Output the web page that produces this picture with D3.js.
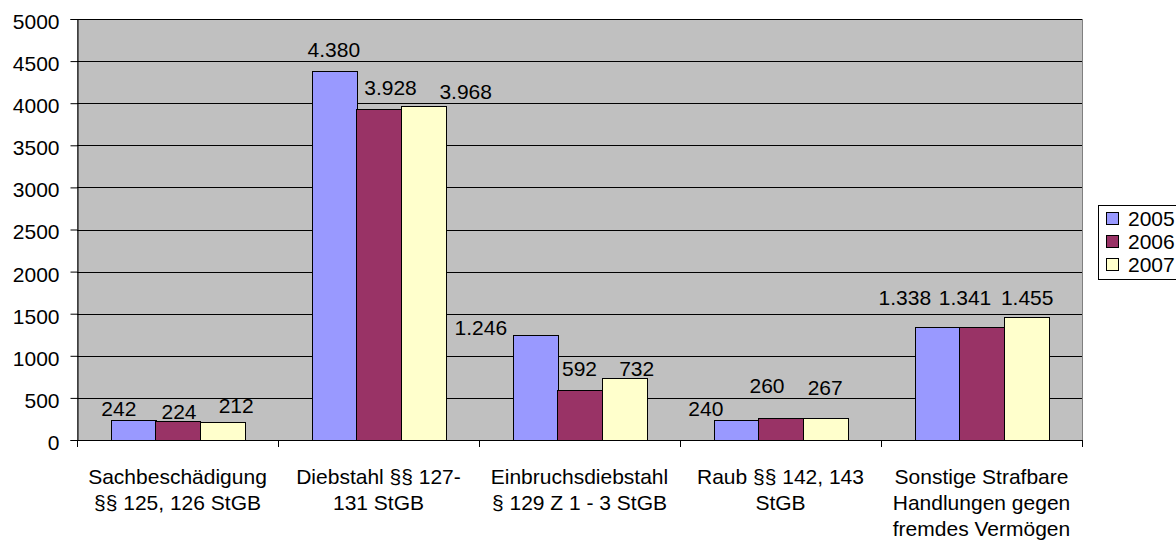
<!DOCTYPE html>
<html>
<head>
<meta charset="utf-8">
<script src="https://cdn.jsdelivr.net/npm/d3@7"></script>
<style>
  html, body { margin: 0; padding: 0; background: #fff; }
  svg { display: block; }
  text { font-family: "Liberation Sans", Arial, sans-serif; fill: #000; }
</style>
</head>
<body>
<svg id="chart" width="1176" height="541"></svg>
<script>
// ---- data ----
const categories = [
  ["Sachbeschädigung", "§§ 125, 126 StGB"],
  ["Diebstahl §§ 127-", "131 StGB"],
  ["Einbruchsdiebstahl", "§ 129 Z 1 - 3 StGB"],
  ["Raub §§ 142, 143", "StGB"],
  ["Sonstige Strafbare", "Handlungen gegen", "fremdes Vermögen"]
];
const years = ["2005", "2006", "2007"];
const values2005 = [242, 4380, 1246, 240, 1338];
const values2006 = [224, 3928, 592, 260, 1341];
const values2007 = [212, 3968, 732, 267, 1455];
const yTicks = [0, 500, 1000, 1500, 2000, 2500, 3000, 3500, 4000, 4500, 5000];

// ---- style / layout (not data) ----
const colors = ["#9999FF", "#993366", "#FFFFCC"];
// manual label nudges [dx, dy] per series per category (labels were hand-placed in the original)
const labelNudge = [
  [[-14, 10], [0, 0], [-54, 14], [-30, 10], [-32, -8]],
  [[1.5, 12], [12, 0], [0, 0], [-13.5, -11], [-16.5, -8]],
  [[14, 5], [42.5, 7], [12.5, 12], [0, -8.5], [1, 1.5]]
];
const FS = 21;
const plot = { left: 77, right: 1082, top: 19, bottom: 440 };

const series = [values2005, values2006, values2007];
const catKeys = categories.map(c => c.join(" "));

const svg = d3.select("#chart");

const x0 = d3.scaleBand().domain(catKeys).range([plot.left, plot.right]).paddingInner(0).paddingOuter(0);
const x1 = d3.scaleBand().domain(years).range([0, x0.bandwidth()]).paddingInner(0).paddingOuter(0.75);
const y = d3.scaleLinear().domain([0, 5000]).range([plot.bottom, plot.top]);

const fmt = d3.formatLocale({ decimal: ",", thousands: ".", grouping: [3], currency: ["", "€"] }).format(",d");

// plot background
svg.append("rect")
  .attr("x", plot.left + 0.5).attr("y", plot.top + 0.5)
  .attr("width", plot.right - plot.left).attr("height", plot.bottom - plot.top)
  .attr("fill", "#C0C0C0").attr("stroke", "#808080").attr("stroke-width", 1);

// gridlines
svg.append("g").selectAll("line")
  .data(yTicks.filter(t => t > 0))
  .join("line")
  .attr("x1", plot.left).attr("x2", plot.right)
  .attr("y1", d => Math.round(y(d)) + 0.5).attr("y2", d => Math.round(y(d)) + 0.5)
  .attr("stroke", "#000").attr("stroke-width", 1);

// bars
years.forEach((yr, si) => {
  svg.append("g").selectAll("rect")
    .data(series[si])
    .join("rect")
    .attr("x", (d, i) => Math.round(x0(catKeys[i]) + x1(yr)) + 0.5)
    .attr("y", d => Math.round(y(d)) + 0.5)
    .attr("width", Math.round(x1.bandwidth()))
    .attr("height", d => Math.round(y(0)) - Math.round(y(d)))
    .attr("fill", colors[si])
    .attr("stroke", "#000").attr("stroke-width", 1);
});

// value labels
years.forEach((yr, si) => {
  svg.append("g").selectAll("text")
    .data(series[si])
    .join("text")
    .attr("x", (d, i) => x0(catKeys[i]) + x1(yr) + x1.bandwidth() / 2 + labelNudge[si][i][0])
    .attr("y", (d, i) => y(d) - 14 + labelNudge[si][i][1])
    .attr("text-anchor", "middle")
    .attr("font-size", FS)
    .text(d => fmt(d));
});

// y axis
const yAxis = d3.axisLeft(y).tickValues(yTicks).tickSize(7).tickPadding(11).tickFormat(d3.format("d"));
const gy = svg.append("g").attr("transform", `translate(${plot.left + 0.5},0)`).call(yAxis);
gy.select(".domain").attr("stroke", "#000");
gy.selectAll(".tick line").attr("stroke", "#000");
gy.selectAll(".tick text")
  .attr("font-family", "Liberation Sans, Arial, sans-serif")
  .attr("font-size", FS).attr("fill", "#000").attr("dy", "0.45em");

// x axis
const gx = svg.append("g");
gx.append("line")
  .attr("x1", plot.left).attr("x2", plot.right + 1)
  .attr("y1", plot.bottom + 0.5).attr("y2", plot.bottom + 0.5)
  .attr("stroke", "#000");
const boundaries = catKeys.map(c => x0(c)).concat([x0.range()[1]]);
gx.selectAll("line.tk")
  .data(boundaries)
  .join("line").attr("class", "tk")
  .attr("x1", d => Math.round(d) + 0.5).attr("x2", d => Math.round(d) + 0.5)
  .attr("y1", plot.bottom).attr("y2", plot.bottom + 7)
  .attr("stroke", "#000");

const catText = gx.selectAll("text.cat")
  .data(categories)
  .join("text").attr("class", "cat")
  .attr("text-anchor", "middle")
  .attr("font-size", FS)
  .attr("x", (d, i) => x0(catKeys[i]) + x0.bandwidth() / 2)
  .attr("y", plot.bottom + 44);
catText.selectAll("tspan")
  .data((d, i) => d.map(line => ({ line, i })))
  .join("tspan")
  .attr("x", d => x0(catKeys[d.i]) + x0.bandwidth() / 2)
  .attr("dy", (d, j) => j === 0 ? 0 : 26)
  .text(d => d.line);

// legend
const leg = svg.append("g");
leg.append("rect")
  .attr("x", 1098.5).attr("y", 205.5).attr("width", 100).attr("height", 74)
  .attr("fill", "#fff").attr("stroke", "#000");
years.forEach((yr, si) => {
  const base = 226 + si * 23;
  leg.append("rect")
    .attr("x", 1106.5).attr("y", base - 13.5).attr("width", 12).attr("height", 12)
    .attr("fill", colors[si]).attr("stroke", "#000");
  leg.append("text")
    .attr("x", 1128).attr("y", base)
    .attr("font-size", FS)
    .text(yr);
});
</script>
</body>
</html>
